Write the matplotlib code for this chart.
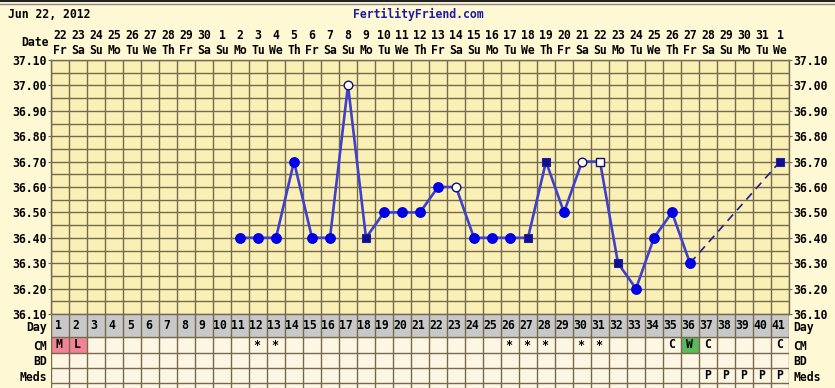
import matplotlib
matplotlib.use("Agg")
import matplotlib.pyplot as plt
import numpy as np

# --- chart data --- #
date_nums = ["22", "23", "24", "25", "26", "27", "28", "29", "30",
             "1", "2", "3", "4", "5", "6", "7", "8", "9", "10", "11", "12", "13", "14", "15", "16",
             "17", "18", "19", "20", "21", "22", "23", "24", "25", "26", "27", "28", "29", "30", "31",
             "1"]
week_days = ["Fr", "Sa", "Su", "Mo", "Tu", "We", "Th", "Fr", "Sa", "Su", "Mo", "Tu", "We", "Th",
             "Fr", "Sa", "Su", "Mo", "Tu", "We", "Th", "Fr", "Sa", "Su", "Mo", "Tu", "We", "Th",
             "Fr", "Sa", "Su", "Mo", "Tu", "We", "Th", "Fr", "Sa", "Su", "Mo", "Tu", "We"]
cycle_days = list(range(1, 42))

temp_days = [11, 12, 13, 14, 15, 16, 17, 18, 19, 20, 21, 22, 23,
             24, 25, 26, 27, 28, 29, 30, 31, 32, 33, 34, 35, 36]
temps = [36.40, 36.40, 36.40, 36.70, 36.40, 36.40, 37.00, 36.40, 36.50, 36.50, 36.50, 36.60, 36.60,
         36.40, 36.40, 36.40, 36.40, 36.70, 36.50, 36.70, 36.70, 36.30, 36.20, 36.40, 36.50, 36.30]
# o = filled circle, O = open circle, s = filled square, S = open square
temp_marks = ["o", "o", "o", "o", "o", "o", "O", "s", "o", "o", "o", "o", "O",
              "o", "o", "o", "s", "s", "o", "O", "S", "s", "o", "o", "o", "o"]

gap_days = [36, 41]
gap_temps = [36.30, 36.70]

cm_days = [1, 2, 12, 13, 26, 27, 28, 30, 31, 35, 36, 37, 41]
cm_codes = ["M", "L", "*", "*", "*", "*", "*", "*", "*", "C", "W", "C", "C"]
meds_days = [37, 38, 39, 40, 41]
meds_codes = ["P", "P", "P", "P", "P"]

# --- styling --- #
W, H = 835, 388
font = {"family": "DejaVu Sans Mono", "weight": "bold", "size": 8.3}
outer_bg = "#FFF8D4"
plot_bg = "#FAF0B6"
rows_bg = "#FDF6E2"
grid_col = "#756A4E"
line_col = "#4040C8"

plt.rcParams["font.family"] = "DejaVu Sans Mono"
plt.rcParams["font.weight"] = "bold"
plt.rcParams["font.size"] = 8.3

fig = plt.figure(figsize=(W / 100, H / 100), dpi=100, facecolor=outer_bg)


def px_axes(l, t, r, b):
    return fig.add_axes([l / W, 1 - b / H, (r - l) / W, (b - t) / H])


# --- temperature chart --- #
ax = px_axes(51, 60, 789, 314)
ax.set_facecolor(plot_bg)
ax.set_xlim(0.5, 41.5)
ax.set_ylim(36.10, 37.10)

ax.set_xticks(cycle_days, [f"{n}\n{w}" for n, w in zip(date_nums, week_days)])
ax.set_xticks(np.arange(0.5, 42, 1), minor=True)
ax.set_yticks(np.arange(36.10, 37.101, 0.10), [f"{v:.2f}" for v in np.arange(36.10, 37.101, 0.10)])
ax.set_yticks(np.arange(36.15, 37.10, 0.10), minor=True)
ax.xaxis.set_ticks_position("top")
ax.tick_params(axis="x", which="both", length=0, pad=2, labelsize=8.3)
ax.tick_params(axis="y", which="major", left=True, right=True, labelleft=True, labelright=True,
               length=2, color=grid_col, pad=1)
ax.tick_params(axis="y", which="minor", length=0)
ax.grid(True, which="minor", axis="x", color=grid_col, lw=1)
ax.grid(True, which="both", axis="y", color=grid_col, lw=1)
ax.set_axisbelow(True)
for s in ax.spines.values():
    s.set_color(grid_col)
    s.set_linewidth(1)

ax.plot(temp_days, temps, color=line_col, lw=1.9, zorder=3)
ax.plot(gap_days, gap_temps, color="#202090", lw=1.2, ls=(0, (5, 3.5)), zorder=3)
for d, t, m in zip(temp_days + [gap_days[-1]], temps + [gap_temps[-1]], temp_marks + ["s"]):
    if m == "o":
        ax.plot(d, t, "o", ms=6.8, mfc="#0000E6", mec="#0000E6", zorder=4)
    elif m == "O":
        ax.plot(d, t, "o", ms=6.2, mfc="white", mec="#101070", mew=1, zorder=4)
    elif m == "s":
        ax.plot(d, t, "s", ms=5.2, mfc="#101088", mec="#2020B0", mew=0.8, zorder=4)
    else:
        ax.plot(d, t, "s", ms=5.2, mfc="white", mec="#101070", mew=1, zorder=4)

fig.text(49 / W, 1 - 43 / H, "Date", ha="right", va="center", **font)
fig.text(8 / W, 1 - 14 / H, "Jun 22, 2012", ha="left", va="center", **font)
fig.text(418 / W, 1 - 14 / H, "FertilityFriend.com", ha="center", va="center",
         color="#1C1CA0", **font)
fig.add_artist(plt.Line2D([0, 1], [1 - 1 / H, 1 - 1 / H], transform=fig.transFigure,
                          color="#222222", lw=1.5))
fig.add_artist(plt.Line2D([0, 1], [1 - 4 / H, 1 - 4 / H], transform=fig.transFigure,
                          color="#888888", lw=1))

# --- bottom rows --- #
row_edges = [0, 23.3, 38.7, 54.0, 69.3]
row_names = ["Day", "CM", "BD", "Meds"]
row_mid = [(a + b) / 2 for a, b in zip(row_edges[:-1], row_edges[1:])]

ax2 = px_axes(51, 314, 789, 388)
ax2.set_facecolor(rows_bg)
ax2.set_xlim(0.5, 41.5)
ax2.set_ylim(74, 0)
ax2.set_xticks([])
ax2.set_yticks(row_mid, row_names)
ax2.tick_params(axis="y", length=0, pad=3, labelright=True, labelsize=8.3)
for s in ax2.spines.values():
    s.set_visible(False)

ax2.axhspan(row_edges[0], row_edges[1], color="#C8C8C8", zorder=0)
cm_colors = {"M": "#F08494", "L": "#F08494", "W": "#5CB85C"}
for d, c in zip(cm_days, cm_codes):
    if c in cm_colors:
        ax2.bar(d, row_edges[2] - row_edges[1], bottom=row_edges[1], width=1,
                color=cm_colors[c], zorder=1)
ax2.vlines(np.arange(0.5, 42, 1), 0, 74, color=grid_col, lw=1, zorder=2)
ax2.hlines(row_edges, 0.5, 41.5, color=grid_col, lw=1, zorder=2)

for d in cycle_days:
    ax2.text(d - 0.1, row_mid[0], str(d), ha="center", va="center", zorder=3, **font)
for d, c in zip(cm_days, cm_codes):
    ax2.text(d - 0.05, row_mid[1], c, ha="center", va="center", zorder=3, **font)
for d, c in zip(meds_days, meds_codes):
    ax2.text(d - 0.05, row_mid[3], c, ha="center", va="center", zorder=3, **font)

fig.savefig("out.png", dpi=100, facecolor=outer_bg)
